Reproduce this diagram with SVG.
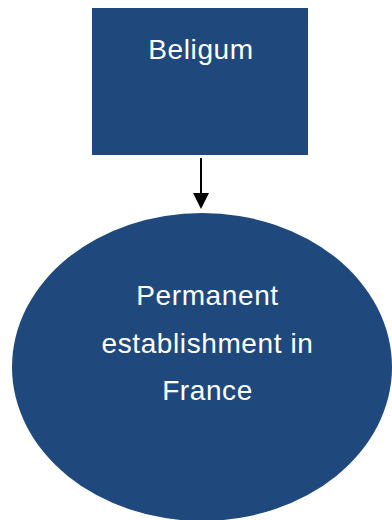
<svg xmlns="http://www.w3.org/2000/svg" width="392" height="520" viewBox="0 0 392 520">
<style>
.shape{fill:#1F497D;}
.lbl{font-family:"Liberation Sans",Arial,sans-serif;font-size:28px;letter-spacing:0.6px;fill:#FFFFFF;text-anchor:middle;}
.conn{stroke:#000000;stroke-width:2;fill:none;}
</style>
<rect width="392" height="520" fill="#FFFFFF"/>
<g id="belgium">
<rect class="shape" x="92" y="8" width="216" height="147"/>
<text class="lbl" x="201" y="59">Beligum</text>
</g>
<g id="connectors">
<line class="conn" x1="201" y1="158" x2="201" y2="193"/>
<path d="M193,193 L209,193 L201,209 Z" fill="#000000"/>
</g>
<g id="pe-france">
<ellipse class="shape" cx="202" cy="367" rx="190" ry="154"/>
<text class="lbl" x="207.5" y="305">Permanent</text>
<text class="lbl" x="207.5" y="353">establishment in</text>
<text class="lbl" x="207.5" y="400">France</text>
</g>
</svg>
